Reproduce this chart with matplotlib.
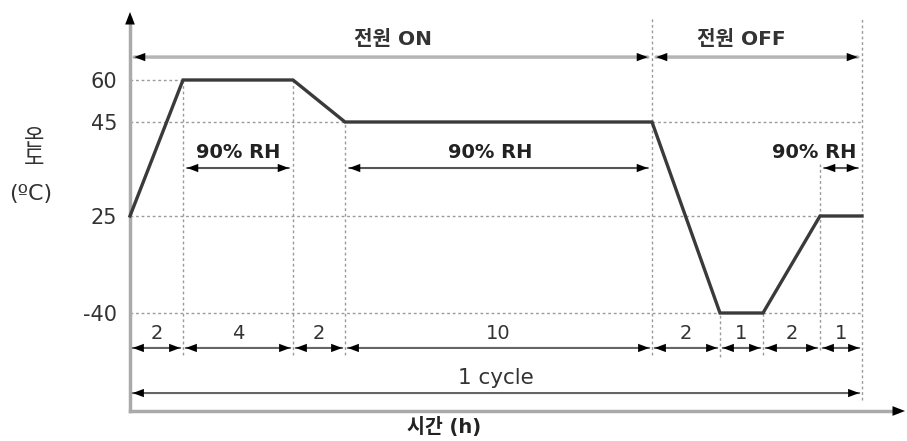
import numpy as np
import matplotlib.pyplot as plt

plt.rcParams['font.family'] = ['DejaVu Sans', 'Noto Sans CJK KR']

# ---------------------------------------------------------
# DATA
# ---------------------------------------------------------
durations = [2, 4, 2, 10, 2, 1, 2, 1]              # hours per step
temps = [25, 60, 60, 45, 45, -40, -40, 25, 25]     # temperature at each breakpoint
temp_ticks = [-40, 25, 45, 60]
power_labels = ["전원 ON", "전원 OFF"]
power_spans = [(0, 18), (18, 24)]
rh_label = "90% RH"
rh_spans = [(2, 6), (8, 18), (23, 24)]
cycle_label = "1 cycle"

times = np.concatenate([[0], np.cumsum(durations)])

# schematic drawing: axes are not linear, breakpoints sit at these pixel columns/rows
x_px = [130, 183, 293, 345, 652, 720, 763, 820, 862]
y_px = [313, 216, 122, 80]


def piecewise(xp, fp):
    xp = np.asarray(xp, dtype=float)
    fp = np.asarray(fp, dtype=float)
    lo = (fp[1] - fp[0]) / (xp[1] - xp[0])
    hi = (fp[-1] - fp[-2]) / (xp[-1] - xp[-2])

    def f(v):
        v = np.asarray(v, dtype=float)
        out = np.interp(v, xp, fp)
        out = np.where(v < xp[0], fp[0] + (v - xp[0]) * lo, out)
        out = np.where(v > xp[-1], fp[-1] + (v - xp[-1]) * hi, out)
        return out
    return f


x_fwd = piecewise(times, x_px)
x_inv = piecewise(x_px, times)
y_fwd = piecewise(temp_ticks, [-p for p in y_px])
y_inv = piecewise([-p for p in y_px], temp_ticks)

# ---------------------------------------------------------
# FIGURE
# ---------------------------------------------------------
W, H = 907, 441
fig = plt.figure(figsize=(W / 100, H / 100), dpi=100)
ax = fig.add_axes([130 / W, 30 / H, 775 / W, 399 / H])
ax.set_xscale('function', functions=(x_fwd, x_inv))
ax.set_yscale('function', functions=(y_fwd, y_inv))
ax.set_xlim(float(x_inv(130)), float(x_inv(905)))
ax.set_ylim(float(y_inv(-411)), float(y_inv(-12)))

for s in ax.spines.values():
    s.set_visible(False)
ax.set_xticks([])
ax.set_yticks(temp_ticks)
ax.set_yticklabels([str(t) for t in temp_ticks])
ax.tick_params(axis='y', length=0, pad=9, labelsize=15, labelcolor='#333333')
ax.minorticks_off()

y_lo, y_hi = [float(v) for v in y_fwd(ax.get_ylim())]


def tfrac(t):
    return (float(y_fwd(t)) - y_lo) / (y_hi - y_lo)


def xmid(t0, t1):
    return float(x_inv((x_fwd(t0) + x_fwd(t1)) / 2))


tr = ax.get_xaxis_transform()
HEAD = '<|-|>,head_length=0.8,head_width=0.3'


def dim_arrow(x0, x1, yf, color, lw, shrink=2):
    ax.annotate('', xy=(x1, yf), xytext=(x0, yf), xycoords=tr, textcoords=tr,
                arrowprops=dict(arrowstyle='-', color=color, lw=lw,
                                shrinkA=shrink, shrinkB=shrink))
    ax.annotate('', xy=(x1, yf), xytext=(x0, yf), xycoords=tr, textcoords=tr,
                arrowprops=dict(arrowstyle=HEAD, color='black', lw=0,
                                shrinkA=shrink, shrinkB=shrink))


# ---------------------------------------------------------
# GUIDES
# ---------------------------------------------------------
guide = dict(color='#9a9a9a', lw=1, linestyle=(0, (2, 2)))
for t, a, b in [(60, 0, 2), (45, 0, 8), (45, 18, 24), (25, 0, 23),
                (-40, 0, 20), (-40, 21, 24)]:
    ax.plot([a, b], [t, t], **guide)

v_guides = [(2, tfrac(60), 0.14), (6, tfrac(60), 0.14), (8, tfrac(45), 0.14),
            (18, 0.985, 0.14), (20, tfrac(-40), 0.135), (21, tfrac(-40), 0.14),
            (23, 0.62, 0.153), (24, 0.985, 0.028)]
for x, top, bot in v_guides:
    ax.axvline(x, ymin=bot, ymax=top, **guide)

# ---------------------------------------------------------
# PROFILE
# ---------------------------------------------------------
ax.plot(times, temps, color='#3a3a3a', lw=2.4, solid_joinstyle='miter',
        clip_on=False, zorder=5)

# axes with arrow heads
ax.plot([0, 0], [0, 0.985], transform=ax.transAxes, color='#aaaaaa', lw=2.5,
        clip_on=False)
ax.plot([0, 0.99], [0, 0], transform=ax.transAxes, color='#aaaaaa', lw=2.5,
        clip_on=False)
ax.annotate('', xy=(0, 1.0), xytext=(0, 0.9), xycoords='axes fraction',
            arrowprops=dict(arrowstyle='-|>,head_length=0.9,head_width=0.35',
                            color='black', lw=0, shrinkA=0, shrinkB=0))
ax.annotate('', xy=(1.0, 0), xytext=(0.9, 0), xycoords='axes fraction',
            arrowprops=dict(arrowstyle='-|>,head_length=0.9,head_width=0.35',
                            color='black', lw=0, shrinkA=0, shrinkB=0))

# ---------------------------------------------------------
# ANNOTATIONS
# ---------------------------------------------------------
# power on / off
for (a, b), label, dx in zip(power_spans, power_labels, [2, -16]):
    dim_arrow(a, b, 0.887, '#b5b5b5', 2.5, shrink=3)
    ax.annotate(label, xy=(xmid(a, b), 0.93), xycoords=tr, xytext=(dx, 0),
                textcoords='offset pixels', ha='center', va='center',
                fontsize=14.5, fontweight='bold', color='#333333')

# humidity spans
for i, (a, b) in enumerate(rh_spans):
    dim_arrow(a, b, 0.609, '#555555', 1.5, shrink=3)
    if i == len(rh_spans) - 1:
        ax.annotate(rh_label, xy=(b, 0.647), xycoords=tr, xytext=(-6, 0),
                    textcoords='offset pixels', ha='right', va='center',
                    fontsize=14, fontweight='bold', color='#222222')
    else:
        ax.annotate(rh_label, xy=(xmid(a, b), 0.647), xycoords=tr,
                    xytext=(0 if i == 0 else -8, 0), textcoords='offset pixels',
                    ha='center', va='center', fontsize=14, fontweight='bold',
                    color='#222222')

# step durations
for a, b, d in zip(times[:-1], times[1:], durations):
    dim_arrow(a, b, 0.158, '#666666', 1.5)
    ax.text(xmid(a, b), 0.195, str(d), transform=tr, ha='center', va='center',
            fontsize=14, color='#333333')

# whole cycle
dim_arrow(times[0], times[-1], 0.045, '#666666', 1.5)
ax.text(xmid(times[0], times[-1]), 0.083, cycle_label, transform=tr,
        ha='center', va='center', fontsize=15.5, color='#333333')

# axis titles
fig.text(444 / W, 1 - 427 / H, "시간 (h)", ha='center', va='center',
         fontsize=14, fontweight='bold', color='#222222')
fig.text(34 / W, 1 - 149 / H, "온\n도", ha='center', va='center',
         fontsize=16, color='#333333', linespacing=1.0)
fig.text(31 / W, 1 - 194 / H, "(ºC)", ha='center', va='center',
         fontsize=16, color='#333333')

fig.savefig("out.png", dpi=100)
